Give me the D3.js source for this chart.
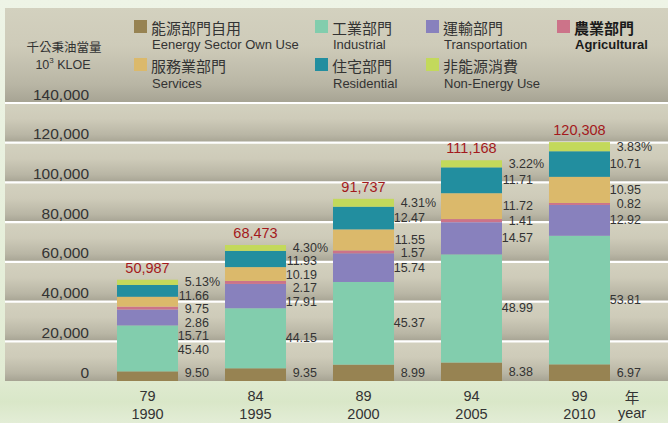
<!DOCTYPE html>
<html><head><meta charset="utf-8">
<script src="https://cdn.jsdelivr.net/npm/d3@7"></script>
<style>
html,body{margin:0;padding:0;background:#e8f0dc;}
svg{display:block;}
text{font-family:"Liberation Sans",Arial,sans-serif;}
.zh{font-family:"Noto Sans CJK TC","Noto Sans CJK SC",sans-serif;}
</style></head>
<body>
<svg id="chart" width="668" height="423"></svg>
<script>
// ---------- data ----------
const rocYears = ["79", "84", "89", "94", "99"];
const adYears = ["1990", "1995", "2000", "2005", "2010"];
const totals = [50987, 68473, 91737, 111168, 120308];
// shares (%) by sector, stacked bottom -> top
const energyOwnUse = [9.50, 9.35, 8.99, 8.38, 6.97];
const industrial = [45.40, 44.15, 45.37, 48.99, 53.81];
const transportation = [15.71, 17.91, 15.74, 14.57, 12.92];
const agricultural = [2.86, 2.17, 1.57, 1.41, 0.82];
const services = [9.75, 10.19, 11.55, 11.72, 10.95];
const residential = [11.66, 11.93, 12.47, 11.71, 10.71];
const nonEnergyUse = [5.13, 4.30, 4.31, 3.22, 3.83];
const yTicks = [0, 20000, 40000, 60000, 80000, 100000, 120000, 140000];

const sectors = [
  {key: "energy", zh: "能源部門自用", en: "Eenergy Sector Own Use", color: "#978352", data: energyOwnUse},
  {key: "industrial", zh: "工業部門", en: "Industrial", color: "#82cdad", data: industrial},
  {key: "transport", zh: "運輸部門", en: "Transportation", color: "#8881bd", data: transportation},
  {key: "agri", zh: "農業部門", en: "Agricultural", color: "#cc7389", data: agricultural, bold: true},
  {key: "services", zh: "服務業部門", en: "Services", color: "#dbb96b", data: services},
  {key: "residential", zh: "住宅部門", en: "Residential", color: "#228e9f", data: residential},
  {key: "nonenergy", zh: "非能源消費", en: "Non-Energy Use", color: "#c3d95b", data: nonEnergyUse}
];
const legendOrder = ["energy", "industrial", "transport", "agri", "services", "residential", "nonenergy"];

// ---------- build table ----------
const rows = adYears.map((y, i) => {
  const r = {year: y, roc: rocYears[i], total: totals[i]};
  sectors.forEach(s => { r[s.key] = totals[i] * s.data[i] / 100; r[s.key + "_pct"] = s.data[i]; });
  return r;
});
const stack = d3.stack().keys(sectors.map(s => s.key));
const series = stack(rows);

// ---------- layout ----------
const svg = d3.select("#chart");
const W = 668, H = 423;
const panel = {x0: 5, x1: 668, y0: 8};
const y = d3.scaleLinear().domain([0, 140000]).range([381, 103]);
const x = d3.scaleBand().domain(adYears).range([93.5, 633.5]).paddingInner(0.435).paddingOuter(0.2176);

const defs = svg.append("defs");
const bg = defs.append("linearGradient").attr("id", "bg").attr("x1", 0).attr("y1", 0).attr("x2", 0).attr("y2", 1);
bg.append("stop").attr("offset", "0").attr("stop-color", "#eef4e6");
bg.append("stop").attr("offset", "0.88").attr("stop-color", "#e2ecd4");
bg.append("stop").attr("offset", "0.95").attr("stop-color", "#d9e7c8");
bg.append("stop").attr("offset", "1").attr("stop-color", "#e3edd6");
const band = defs.append("linearGradient").attr("id", "band").attr("x1", 0).attr("y1", 0).attr("x2", 0).attr("y2", 1);
band.append("stop").attr("offset", "0").attr("stop-color", "#d3d1bf");
band.append("stop").attr("offset", "0.4").attr("stop-color", "#cecbb9");
band.append("stop").attr("offset", "0.8").attr("stop-color", "#b9b6a5");
band.append("stop").attr("offset", "1").attr("stop-color", "#a6a393");

svg.append("rect").attr("width", W).attr("height", H).attr("fill", "url(#bg)");

// panel bands between gridlines
const bandEdges = [panel.y0].concat(yTicks.slice().reverse().map(v => y(v)));
for (let i = 0; i < bandEdges.length - 1; i++) {
  svg.append("rect")
    .attr("x", panel.x0).attr("width", panel.x1 - panel.x0)
    .attr("y", bandEdges[i]).attr("height", bandEdges[i + 1] - bandEdges[i])
    .attr("fill", "url(#band)");
}
// white gridlines
svg.append("g").selectAll("line").data(yTicks.filter(v => v > 0)).join("line")
  .attr("x1", panel.x0).attr("x2", panel.x1)
  .attr("y1", d => y(d)).attr("y2", d => y(d))
  .attr("stroke", "#ffffff").attr("stroke-width", 2.2);

// y tick labels
svg.append("g").selectAll("text").data(yTicks).join("text")
  .attr("x", 89).attr("y", d => y(d) - 9)
  .attr("text-anchor", "end").attr("dominant-baseline", "central")
  .attr("font-size", "15.5px").attr("fill", "#333")
  .text(d => d3.format(",")(d));

// y title
svg.append("text").attr("class", "zh").attr("x", 64).attr("y", 46)
  .attr("text-anchor", "middle").attr("dominant-baseline", "central")
  .attr("font-size", "12.5px").attr("fill", "#333").text("千公秉油當量");
const ut = svg.append("text").attr("x", 63).attr("y", 65)
  .attr("text-anchor", "middle").attr("dominant-baseline", "central")
  .attr("font-size", "12.5px").attr("fill", "#333");
ut.append("tspan").text("10");
ut.append("tspan").attr("font-size", "8px").attr("dy", -5).text("3");
ut.append("tspan").attr("dy", 5).text(" KLOE");

// bars
const colorOf = Object.fromEntries(sectors.map(s => [s.key, s.color]));
svg.append("g").selectAll("g").data(series).join("g")
  .attr("fill", d => colorOf[d.key])
  .selectAll("rect").data(d => d).join("rect")
  .attr("x", d => x(d.data.year)).attr("width", x.bandwidth())
  .attr("y", d => y(d[1])).attr("height", d => y(d[0]) - y(d[1]));

// totals
svg.append("g").selectAll("text").data(rows).join("text")
  .attr("x", d => x(d.year) + x.bandwidth() / 2)
  .attr("y", d => y(d.total) - 12)
  .attr("text-anchor", "middle").attr("dominant-baseline", "central")
  .attr("font-size", "14.5px").attr("fill", "#a3191c")
  .text(d => d3.format(",")(d.total));

// percentage labels with simple top-down collision avoidance
const lblG = svg.append("g");
rows.forEach((r, i) => {
  const xr = x(r.year) + x.bandwidth() + 31;
  const items = series.map(s => ({key: s.key, pct: r[s.key + "_pct"], c: (y(s[i][0]) + y(s[i][1])) / 2})).reverse();
  let prev = -Infinity;
  items.forEach(it => { it.y = Math.max(it.c, prev + 13.5); prev = it.y; });
  const last = items[items.length - 1];
  if (last.y > 373) last.y = 373;
  items.forEach((it, j) => {
    lblG.append("text").attr("x", xr).attr("y", it.y)
      .attr("text-anchor", "end").attr("dominant-baseline", "central")
      .attr("font-family", "'Liberation Sans Narrow','Liberation Sans',Arial,sans-serif")
      .attr("font-size", "12.5px").attr("fill", "#333")
      .text(it.pct.toFixed(2));
    if (j === 0) {
      lblG.append("text").attr("x", xr).attr("y", it.y)
        .attr("text-anchor", "start").attr("dominant-baseline", "central")
        .attr("font-family", "'Liberation Sans Narrow','Liberation Sans',Arial,sans-serif")
        .attr("font-size", "12.5px").attr("fill", "#333").text("%");
    }
  });
});

// x labels
const xl = svg.append("g");
rows.forEach(r => {
  const cx = x(r.year) + x.bandwidth() / 2;
  xl.append("text").attr("x", cx).attr("y", 396).attr("text-anchor", "middle")
    .attr("dominant-baseline", "central").attr("font-size", "14.5px").attr("fill", "#333").text(r.roc);
  xl.append("text").attr("x", cx).attr("y", 414).attr("text-anchor", "middle")
    .attr("dominant-baseline", "central").attr("font-size", "14.5px").attr("fill", "#333").text(r.year);
});
xl.append("text").attr("class", "zh").attr("x", 632).attr("y", 396).attr("text-anchor", "middle")
  .attr("dominant-baseline", "central").attr("font-size", "14.5px").attr("fill", "#333").text("年");
xl.append("text").attr("x", 632).attr("y", 413).attr("text-anchor", "middle")
  .attr("dominant-baseline", "central").attr("font-size", "14.5px").attr("fill", "#333").text("year");

// legend
const legCols = [134, 315, 426, 557];
const legRows = [20, 58];
const byKey = Object.fromEntries(sectors.map(s => [s.key, s]));
legendOrder.forEach((k, idx) => {
  const s = byKey[k];
  const col = idx < 4 ? idx : idx - 4;
  const row = idx < 4 ? 0 : 1;
  const lx = legCols[col], ly = legRows[row];
  const g = svg.append("g");
  g.append("rect").attr("x", lx).attr("y", ly).attr("width", 13).attr("height", 13).attr("fill", s.color);
  g.append("text").attr("class", "zh").attr("x", lx + 17).attr("y", ly + 7)
    .attr("dominant-baseline", "central").attr("font-size", "15px")
    .attr("fill", s.bold ? "#1a1a1a" : "#333").attr("font-weight", s.bold ? "bold" : "normal").text(s.zh);
  g.append("text").attr("x", lx + 18).attr("y", ly + (row === 0 ? 24 : 25))
    .attr("dominant-baseline", "central").attr("font-size", "13px")
    .attr("fill", s.bold ? "#1a1a1a" : "#333").attr("font-weight", s.bold ? "bold" : "normal").text(s.en);
});
</script>
</body></html>
